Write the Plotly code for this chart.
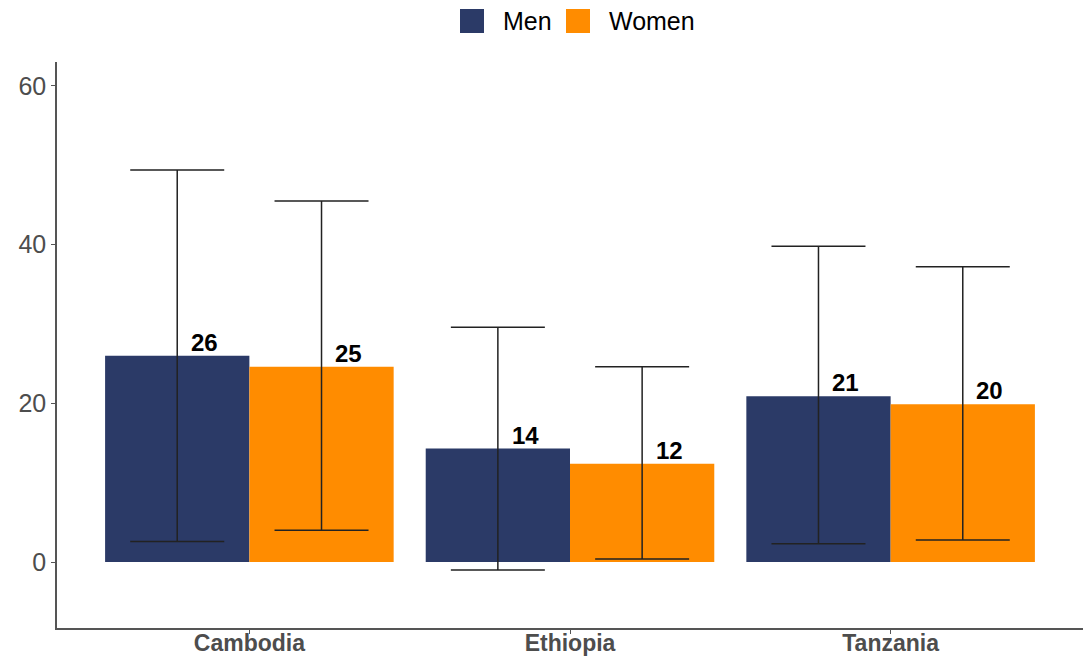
import plotly.graph_objects as go

countries = ["Cambodia", "Ethiopia", "Tanzania"]
men = [26.0, 14.3, 20.9]
women = [24.6, 12.4, 19.9]
men_upper = [49.4, 29.6, 39.8]
men_lower = [2.6, -1.0, 2.3]
women_upper = [45.5, 24.6, 37.2]
women_lower = [4.0, 0.4, 2.8]
series_names = ["Men", "Women"]

NAVY = "#2B3A67"
ORANGE = "#FF8C00"
AXIS = "#4d4d4d"
FONT = "Liberation Sans, Arial"

W, H = 1092, 658
M_L, M_R, M_T, M_B = 57, 9, 62, 30
PW, PH = W - M_L - M_R, H - M_T - M_B


def px_x(px):
    return (px - M_L) / PW


def px_y(py):
    return (H - M_B - py) / PH


def bar_trace(name, vals, up, lo, color):
    return go.Bar(
        x=countries, y=vals, name=name, marker=dict(color=color, line=dict(width=0)),
        showlegend=False,
        error_y=dict(
            type="data", symmetric=False,
            array=[u - v for u, v in zip(up, vals)],
            arrayminus=[v - l for v, l in zip(vals, lo)],
            color="#222222", thickness=1.5, width=47,
        ),
    )

fig = go.Figure()
fig.add_trace(bar_trace(series_names[0], men, men_upper, men_lower, NAVY))
fig.add_trace(bar_trace(series_names[1], women, women_upper, women_lower, ORANGE))

# value labels, nudged right of each bar centre
for vals, shift in [(men, -45), (women, 99)]:
    for c, v in zip(countries, vals):
        fig.add_annotation(
            x=c, y=v, text=f"<b>{v:.0f}</b>", showarrow=False,
            xshift=shift, yanchor="bottom", yshift=-2,
            font=dict(size=24, color="black", family=FONT),
        )

# legend drawn above the panel with large square keys
for name, color, sq_left, txt_left in [(series_names[0], NAVY, 460, 501),
                                       (series_names[1], ORANGE, 566, 607)]:
    fig.add_shape(
        type="rect", xref="paper", yref="paper",
        x0=px_x(sq_left), x1=px_x(sq_left + 24), y0=px_y(33), y1=px_y(9),
        fillcolor=color, line=dict(width=0),
    )
    fig.add_annotation(
        xref="paper", yref="paper", x=px_x(txt_left), y=px_y(21),
        xanchor="left", yanchor="middle", text=name, showarrow=False,
        font=dict(size=25, color="black", family=FONT),
    )

fig.update_layout(
    width=W, height=H,
    margin=dict(l=M_L, r=M_R, t=M_T, b=M_B, autoexpand=False),
    plot_bgcolor="white", paper_bgcolor="white",
    barmode="group", bargap=0.1, bargroupgap=0,
    font=dict(family=FONT, color=AXIS),
    showlegend=False,
    xaxis=dict(
        range=[-0.6, 2.6], showline=True, linecolor="#555555", linewidth=1.5,
        ticks="outside", ticklen=4, tickcolor="#555555",
        tickfont=dict(size=23, color=AXIS, family=FONT), ticklabelstandoff=-10,
        tickprefix="<b>", ticksuffix="</b>", showgrid=False, zeroline=False,
    ),
    yaxis=dict(
        range=[-8.3, 63], showline=True, linecolor="#555555", linewidth=1.5,
        ticks="outside", ticklen=4, tickcolor="#555555",
        tickvals=[0, 20, 40, 60], tickfont=dict(size=25, color=AXIS),
        showgrid=False, zeroline=False,
    ),
)

fig.write_html("out.html")
